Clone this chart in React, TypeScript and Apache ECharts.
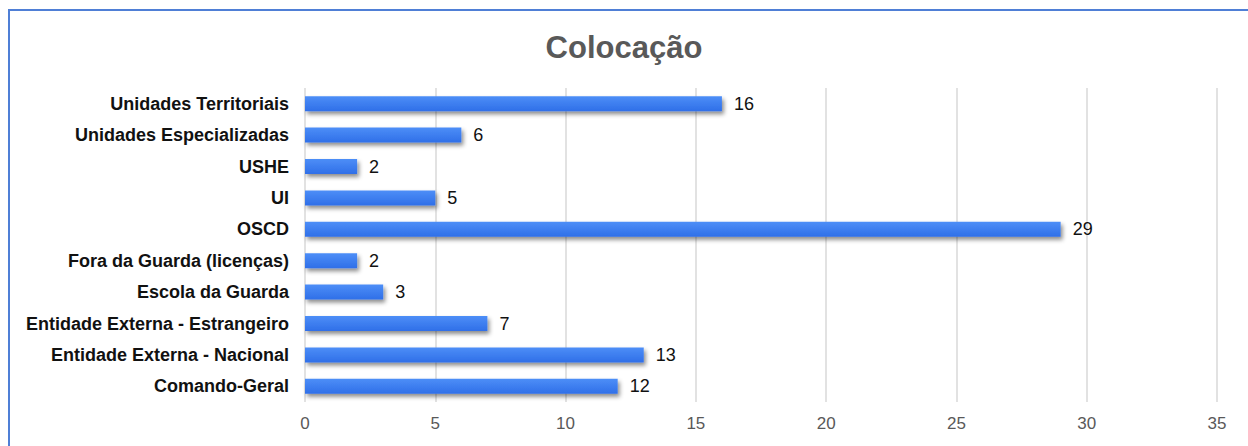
import React, { useEffect, useRef } from "react";
import * as echarts from "echarts";

const categories = [
  "Unidades Territoriais",
  "Unidades Especializadas",
  "USHE",
  "UI",
  "OSCD",
  "Fora da Guarda (licenças)",
  "Escola da Guarda",
  "Entidade Externa - Estrangeiro",
  "Entidade Externa - Nacional",
  "Comando-Geral",
];
const values = [16, 6, 2, 5, 29, 2, 3, 7, 13, 12];
const title = "Colocação";

const FONT = "'Liberation Sans', Arial, sans-serif";

export default function App() {
  const ref = useRef<HTMLDivElement>(null);
  useEffect(() => {
    const chart = echarts.init(ref.current!, null, { renderer: "svg" });
    chart.setOption({
      animation: false,
      backgroundColor: "#ffffff",
      title: {
        text: title,
        left: "center",
        top: 27,
        textStyle: { color: "#595959", fontSize: 31, fontWeight: "bold", fontFamily: FONT },
      },
      graphic: [
        {
          type: "rect",
          shape: { x: 9, y: 10, width: 1260, height: 460 },
          style: { fill: "none", stroke: "#4f7fd6", lineWidth: 2 },
          silent: true,
        },
      ],
      grid: { left: 305, right: 31, top: 88, bottom: 44 },
      xAxis: {
        type: "value",
        min: 0,
        max: 35,
        interval: 5,
        axisLine: { show: false },
        axisTick: { show: false },
        axisLabel: { color: "#595959", fontSize: 17, margin: 13, fontFamily: FONT },
        splitLine: { lineStyle: { color: "#d9d9d9", width: 1.5 } },
      },
      yAxis: {
        type: "category",
        data: categories,
        inverse: true,
        axisLine: { show: false },
        axisTick: { show: false },
        axisLabel: { color: "#111111", fontSize: 18, fontWeight: "bold", margin: 16, fontFamily: FONT },
        splitLine: { show: false },
      },
      series: [
        {
          type: "bar",
          data: values,
          barWidth: 15,
          itemStyle: {
            color: new echarts.graphic.LinearGradient(0, 0, 0, 1, [
              { offset: 0, color: "#4d8ef7" },
              { offset: 1, color: "#2f6fe8" },
            ]),
            shadowColor: "rgba(0,0,0,0.45)",
            shadowBlur: 4,
            shadowOffsetX: 2,
            shadowOffsetY: 3,
          },
          label: {
            show: true,
            position: "right",
            distance: 12,
            color: "#111111",
            fontSize: 18,
            fontFamily: FONT,
          },
        },
      ],
    });
    return () => chart.dispose();
  }, []);
  return (
    <div
      ref={ref}
      style={{ position: "fixed", left: 0, top: 0, width: 1248, height: 446 }}
    />
  );
}
